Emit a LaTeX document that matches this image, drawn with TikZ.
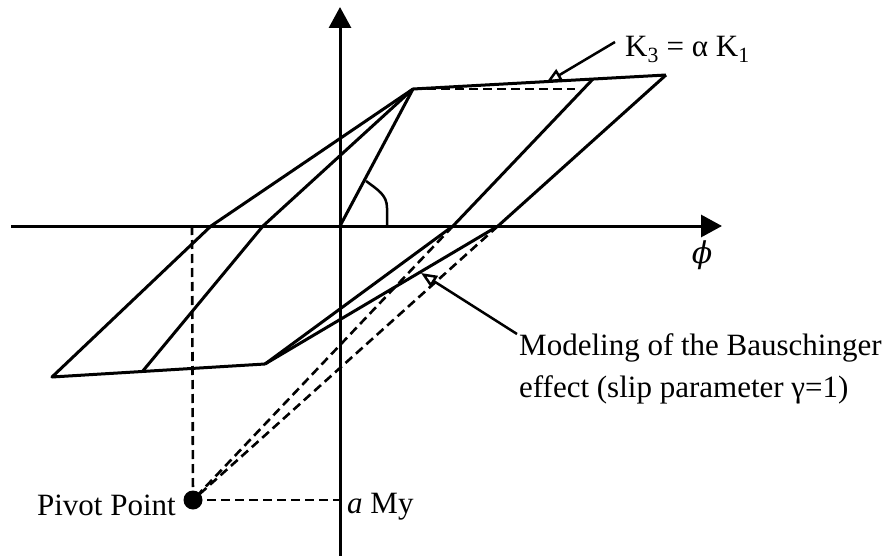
\documentclass[tikz,border=0pt]{standalone}
\usepackage{fontspec}
\setmainfont{Liberation Serif}
\newfontfamily\phifont{DejaVu Serif}
\usetikzlibrary{arrows.meta}
\begin{document}
\begin{tikzpicture}[x=1pt,y=-1pt,
  curve/.style={line width=3pt,line join=round},
  axisline/.style={line width=3pt,-{Triangle[length=21pt,width=22pt]}},
  dashline/.style={line width=2.6pt,dash pattern=on 9pt off 5pt},
  leader/.style={line width=2.5pt,-{Triangle[open,length=16pt,width=13pt]}},
  lbl/.style={inner sep=0pt,font=\fontsize{31pt}{40pt}\selectfont}]
\useasboundingbox (0,0) rectangle (896,556);
% key points
\coordinate (O) at (340,226);
\coordinate (A) at (413,89);
\coordinate (B) at (666,75);
\coordinate (C) at (593,79);
\coordinate (Adash) at (575,89);
\coordinate (X1) at (453,226);
\coordinate (X2) at (498,226);
\coordinate (D) at (265,364);
\coordinate (E) at (52,377);
\coordinate (F) at (142,372);
\coordinate (L1) at (211,226);
\coordinate (L2) at (263,226);
\coordinate (P) at (193,500);
\coordinate (Vtop) at (192,226);
\coordinate (Ay) at (339,500);
% axes
\coordinate (xs) at (11,226);
\coordinate (xe) at (722,226);
\coordinate (ys) at (340,556);
\coordinate (ye) at (340,7);
\draw[axisline] (xs) -- (xe);
\draw[axisline] (ys) -- (ye);
% hysteresis
\draw[curve] (O) -- (A) -- (B);
\draw[dashline] (A) -- (Adash);
\draw[curve] (C) -- (X1) -- (D);
\draw[curve] (B) -- (X2) -- (D);
\draw[curve] (D) -- (E) -- (L1) -- (A);
\draw[curve] (F) -- (L2) -- (A);
\draw[dashline] (X1) -- (P);
\draw[dashline] (X2) -- (P);
\draw[dashline] (Vtop) -- (P);
\draw[dashline] (P) -- (Ay);
\fill (P) circle (9.5);
% angle mark
\coordinate (g1) at (366,181);
\coordinate (g2) at (387,208);
\coordinate (g3) at (387,226);
\draw[line width=2.5pt] (g1) .. controls (378,190) and (387,195) .. (g2) -- (g3);
% labels
\node[lbl,anchor=base west] (k3) at (625,57) {K\textsubscript{3} = α K\textsubscript{1}};
\coordinate (k3s) at (615,42);
\coordinate (k3t) at (546,83);
\draw[leader] (k3s) -- (k3t);
\node[inner sep=0pt,font=\fontsize{30pt}{36pt}\phifont\itshape,anchor=center] (phi) at (702,255) {ϕ};
\node[lbl,anchor=base west] (mod1) at (519,355) {Modeling of the Bauschinger};
\node[lbl,anchor=base west] (mod2) at (519,397) {effect (slip parameter γ=1)};
\coordinate (bs) at (517,334);
\coordinate (bt) at (421,273);
\draw[leader] (bs) -- (bt);
\node[lbl,anchor=base east] (pp) at (176,515) {Pivot Point};
\node[lbl,anchor=base west] (amy) at (347,513) {\textit{a} My};
\end{tikzpicture}
\end{document}
